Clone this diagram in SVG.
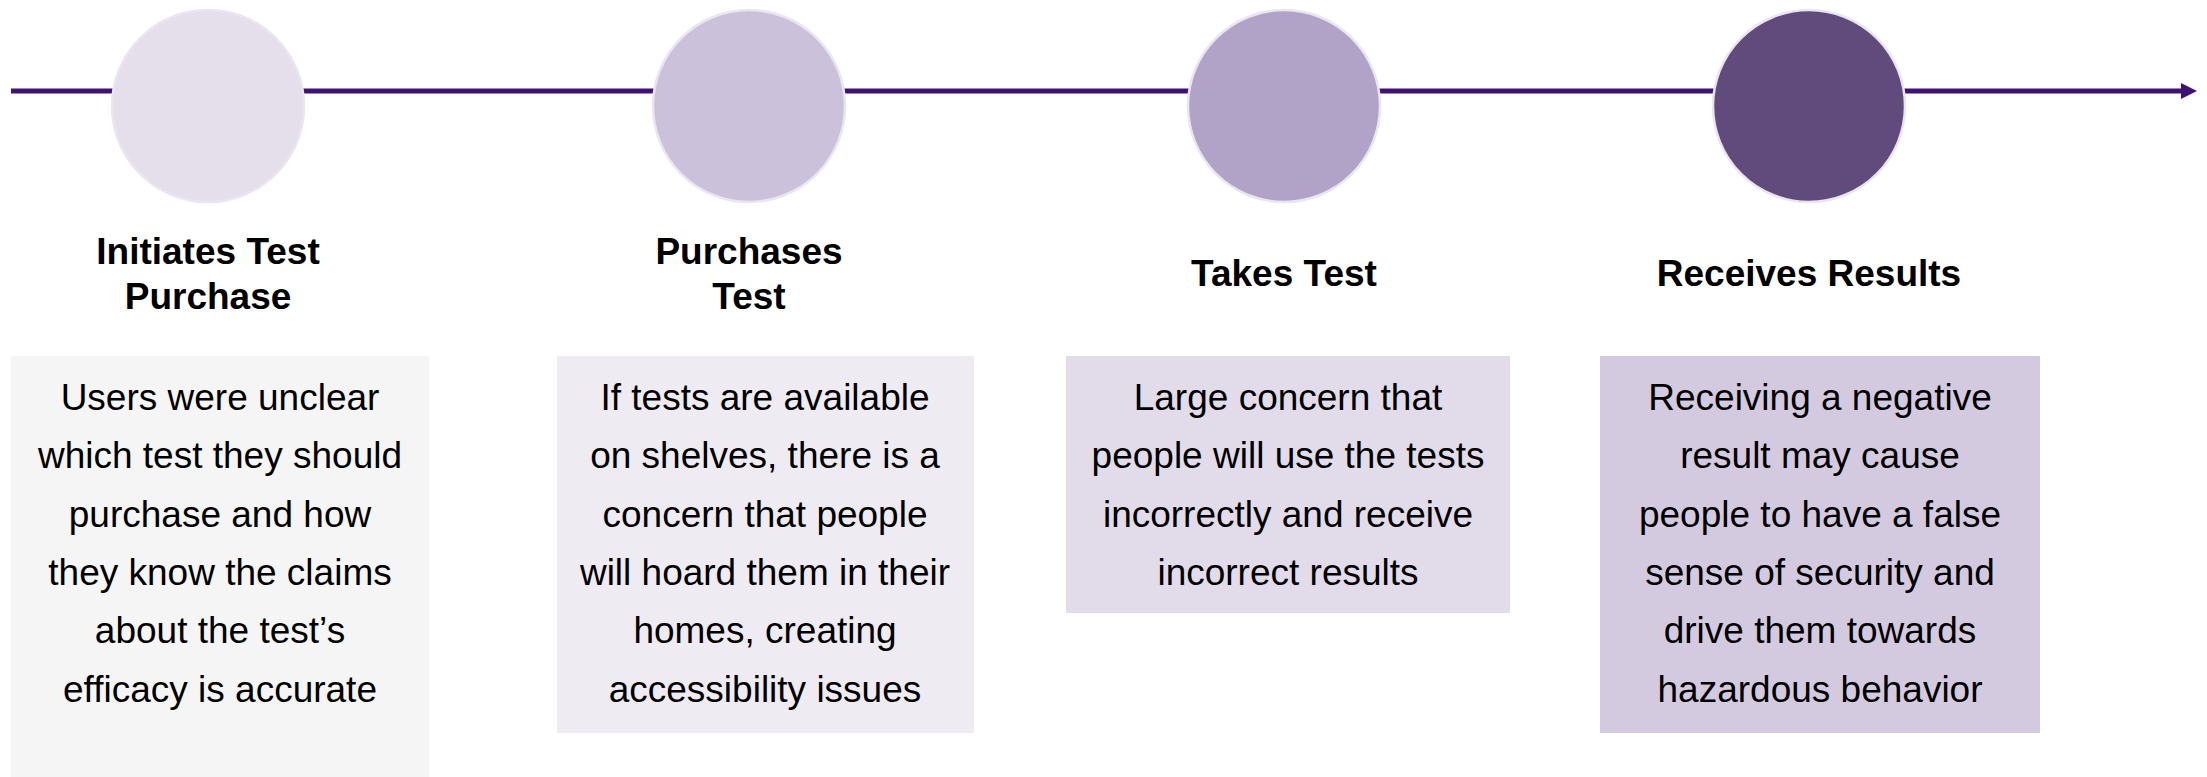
<svg xmlns="http://www.w3.org/2000/svg" width="2207" height="777" viewBox="0 0 2207 777">
  <style>
    .axis { stroke: #3F1272; stroke-width: 5; fill: none; }
    .dot { stroke: #EAE5F0; stroke-width: 2.5; }
    .title { font-family: "Liberation Sans", Arial, sans-serif; font-weight: bold; font-size: 37px; fill: #000000; text-anchor: middle; }
    .body { font-family: "Liberation Sans", Arial, sans-serif; font-size: 37px; fill: #000000; text-anchor: middle; }
  </style>
  <defs>
    <marker id="arrowhead" viewBox="0 0 16 16" refX="1" refY="8" markerWidth="16" markerHeight="16" markerUnits="userSpaceOnUse" orient="auto">
      <path d="M0,0 L16,8 L0,16 Z" fill="#3F1272"/>
    </marker>
  </defs>

  <rect width="2207" height="777" fill="#FFFFFF"/>

  <!-- timeline axis -->
  <g id="connectors">
    <line class="axis" x1="11" y1="91" x2="2182" y2="91" marker-end="url(#arrowhead)"/>
  </g>

  <!-- step 1 -->
  <g id="step-initiates">
    <circle class="dot" cx="208" cy="106" r="96" fill="#E5DFEC"/>
    <text class="title" x="208" y="264">Initiates Test</text>
    <text class="title" x="208" y="309">Purchase</text>
    <rect x="11" y="356" width="418" height="421" fill="#F5F5F5"/>
    <text class="body" x="220" y="410">Users were unclear</text>
    <text class="body" x="220" y="468">which test they should</text>
    <text class="body" x="220" y="527">purchase and how</text>
    <text class="body" x="220" y="585">they know the claims</text>
    <text class="body" x="220" y="643">about the test’s</text>
    <text class="body" x="220" y="702">efficacy is accurate</text>
  </g>

  <!-- step 2 -->
  <g id="step-purchases">
    <circle class="dot" cx="749" cy="106" r="96" fill="#CBC1DB"/>
    <text class="title" x="749" y="264">Purchases</text>
    <text class="title" x="749" y="309">Test</text>
    <rect x="557" y="356" width="417" height="377" fill="#EEEBF3"/>
    <text class="body" x="765" y="410">If tests are available</text>
    <text class="body" x="765" y="468">on shelves, there is a</text>
    <text class="body" x="765" y="527">concern that people</text>
    <text class="body" x="765" y="585">will hoard them in their</text>
    <text class="body" x="765" y="643">homes, creating</text>
    <text class="body" x="765" y="702">accessibility issues</text>
  </g>

  <!-- step 3 -->
  <g id="step-takes">
    <circle class="dot" cx="1284" cy="106" r="96" fill="#B1A3C8"/>
    <text class="title" x="1284" y="286">Takes Test</text>
    <rect x="1066" y="356" width="444" height="257" fill="#E1DBEA"/>
    <text class="body" x="1288" y="410">Large concern that</text>
    <text class="body" x="1288" y="468">people will use the tests</text>
    <text class="body" x="1288" y="527">incorrectly and receive</text>
    <text class="body" x="1288" y="585">incorrect results</text>
  </g>

  <!-- step 4 -->
  <g id="step-receives">
    <circle class="dot" cx="1809" cy="106" r="96" fill="#614B7C"/>
    <text class="title" x="1809" y="286">Receives Results</text>
    <rect x="1600" y="356" width="440" height="377" fill="#D4CAE0"/>
    <text class="body" x="1820" y="410">Receiving a negative</text>
    <text class="body" x="1820" y="468">result may cause</text>
    <text class="body" x="1820" y="527">people to have a false</text>
    <text class="body" x="1820" y="585">sense of security and</text>
    <text class="body" x="1820" y="643">drive them towards</text>
    <text class="body" x="1820" y="702">hazardous behavior</text>
  </g>
</svg>
